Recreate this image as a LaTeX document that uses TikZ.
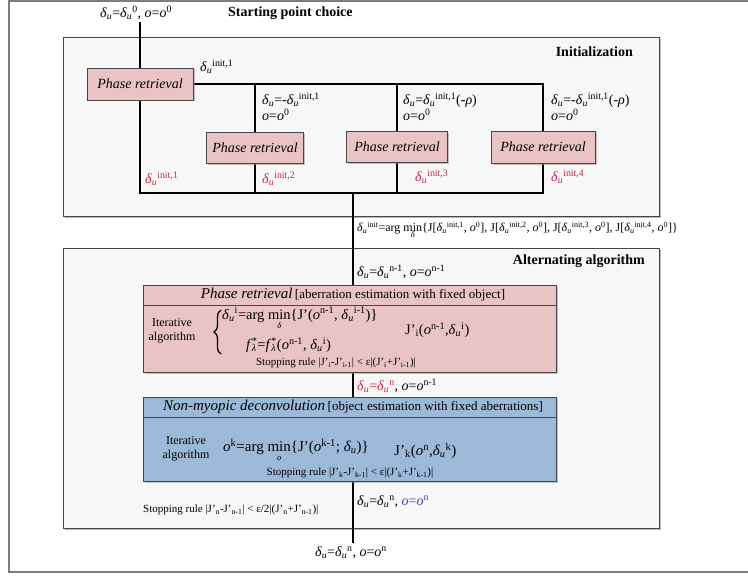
\documentclass[tikz,border=0pt]{standalone}
\usepackage{fontspec}
\setmainfont{Liberation Serif}
\usetikzlibrary{shadows,decorations.pathreplacing}
\pgfdeclarelayer{bg}\pgfdeclarelayer{lines}
\pgfsetlayers{bg,lines,main}
\definecolor{pinkfill}{RGB}{234,196,196}
\definecolor{bluefill}{RGB}{157,185,218}
\definecolor{framefill}{RGB}{247,247,247}
\definecolor{boxedge}{RGB}{70,70,70}
\definecolor{redtxt}{RGB}{200,40,70}
\definecolor{purptxt}{RGB}{80,60,170}
\definecolor{outer}{RGB}{125,125,125}
\newcommand\fsz[2]{\fontsize{#1}{#2}\selectfont}
\newcommand\du{\textit{δ}\textsubscript{\textit{u}}}
\newcommand\oo{\textit{o}}
\newcommand\Jp{J’}
\newcommand\argminof[1]{arg \begin{tabular}[t]{@{}c@{}}min\\[-7pt]{\fsz{8.5}{8.5}\itshape #1}\end{tabular}}
\newcommand\supsub[2]{\setbox0\hbox{\textsuperscript{#1}}\setbox2\hbox{\textsubscript{#2}}\ifdim\wd0>\wd2 \rlap{\box2}\box0 \else\rlap{\box0}\box2 \fi}
\tikzset{
  framebox/.style={draw=boxedge, line width=0.8pt, fill=framefill, anchor=north west, inner sep=0pt,
    drop shadow={shadow xshift=1.5pt, shadow yshift=-1.5pt, fill=black!55}},
  prbox/.style={draw=boxedge, line width=0.6pt, fill=pinkfill, minimum width=100pt, minimum height=31pt,
    inner sep=0pt, font=\fsz{14}{16}\itshape,
    drop shadow={shadow xshift=1.5pt, shadow yshift=-1.5pt, fill=black!45}},
  bigbox/.style={draw=boxedge, line width=0.6pt, anchor=north west, inner sep=0pt, minimum width=413pt,
    drop shadow={shadow xshift=1.5pt, shadow yshift=-1.5pt, fill=black!45}},
  conn/.style={line width=2.4pt, black},
  sep/.style={draw=boxedge, line width=0.6pt},
  lbl/.style={inner sep=0pt, font=\fsz{14}{16}},
  eqn/.style={inner sep=0pt, anchor=west, font=\fsz{14.5}{16}},
  small/.style={inner sep=0pt, font=\fsz{11}{13}},
  title/.style={inner sep=0pt, font=\fsz{14}{16}\bfseries},
  curly/.style={decorate, decoration={brace, amplitude=7pt, aspect=0.5}, line width=1.3pt},
}
\begin{document}
\begin{tikzpicture}[x=1pt,y=-1pt]
\useasboundingbox (0,0) rectangle (748,578);
\begin{pgfonlayer}{bg}
\fill[white] (0,0) rectangle (748,578);
\draw[outer, line width=2.4pt] (748,1.2) -- (9,1.2) -- (9,572) -- (748,572);
\end{pgfonlayer}

% frames
\begin{pgfonlayer}{bg}
\node[framebox, minimum width=596pt, minimum height=179pt] (initf) at (63,37) {};
\node[framebox, minimum width=596pt, minimum height=280pt] (altf) at (63,248) {};
\end{pgfonlayer}

% titles
\node[lbl, anchor=west] (t0) at (100,13) {\du=\du\textsuperscript{0}, \oo=\oo\textsuperscript{0}};
\node[title, anchor=west] (spc) at (228,13) {Starting point choice};
\node[title, anchor=east] (initt) at (633,52) {Initialization};
\node[title, anchor=east] (altt) at (645,261) {Alternating algorithm};

% initialization boxes
\node[prbox, minimum width=106pt, minimum height=32pt] (pr1) at (140,84) {Phase retrieval};
\node[prbox, minimum width=97pt] (pr2) at (255,148) {Phase retrieval};
\node[prbox, minimum width=101pt] (pr3) at (397,147) {Phase retrieval};
\node[prbox, minimum width=104pt, minimum height=32pt] (pr4) at (543,147) {Phase retrieval};

\coordinate (s0) at (140,22);
\coordinate (bl) at (140,193);
\coordinate (c2t) at (255,84);
\coordinate (c2b) at (255,193);
\coordinate (c3t) at (397,84);
\coordinate (c3b) at (397,193);
\coordinate (c4t) at (543,84);
\coordinate (c4b) at (543,193);
\coordinate (jn) at (353,193);
\coordinate (endc) at (353,543);

% init labels
\node[lbl, anchor=west] (l1) at (200,67) {\du\textsuperscript{init,1}};
\node[lbl, anchor=west, align=left] (l2) at (262,107) {\du=-\du\textsuperscript{init,1}\\\oo=\oo\textsuperscript{0}};
\node[lbl, anchor=west, align=left] (l3) at (403,107) {\du=\du\textsuperscript{init,1}(-\textit{ρ})\\\oo=\oo\textsuperscript{0}};
\node[lbl, anchor=west, align=left] (l4) at (551,107) {\du=-\du\textsuperscript{init,1}(-\textit{ρ})\\\oo=\oo\textsuperscript{0}};
\node[lbl, anchor=west, text=redtxt] (r1) at (145,179) {\du\textsuperscript{init,1}};
\node[lbl, anchor=west, text=redtxt] (r2) at (262,179) {\du\textsuperscript{init,2}};
\node[lbl, anchor=west, text=redtxt] (r3) at (415,177) {\du\textsuperscript{init,3}};
\node[lbl, anchor=west, text=redtxt] (r4) at (551,177) {\du\textsuperscript{init,4}};

\node[inner sep=0pt, anchor=west, font=\fsz{12}{13}] (am) at (357,232)
 {\du\textsuperscript{init}=\argminof{δ}\{J[\du\textsuperscript{init,1}, \oo\textsuperscript{0}], J[\du\textsuperscript{init,2}, \oo\textsuperscript{0}], J[\du\textsuperscript{init,3}, \oo\textsuperscript{0}], J[\du\textsuperscript{init,4}, \oo\textsuperscript{0}]\}};

% alternating algorithm
\node[lbl, anchor=west] (a0) at (357,272) {\du=\du\textsuperscript{n-1}, \oo=\oo\textsuperscript{n-1}};

\node[bigbox, fill=pinkfill, minimum height=87pt] (pra) at (143,285) {};
\draw[sep] (pra.north west |- 0,305) -- (pra.north east |- 0,305);
\node[inner sep=0pt] (prah) at (353,295) {{\fsz{15}{17}\itshape Phase retrieval} {\fsz{13}{15}[aberration estimation with fixed object]}};
\node[inner sep=0pt, align=center, font=\fsz{12}{14}] (it1) at (172,331) {Iterative\\algorithm};
\coordinate (brb) at (221,354);
\coordinate (brt) at (221,310);
\draw[curly] (brb) -- (brt);
\node[eqn] (e1) at (222,320) {\du\textsuperscript{i}=\argminof{δ}\{\Jp(\oo\textsuperscript{n-1}, \du\textsuperscript{i-1})\}};
\node[eqn] (e2) at (246,345) {\textit{f}\supsub{*}{\textit{λ}}=\textit{f}\supsub{*}{\textit{λ}}(\oo\textsuperscript{n-1}, \du\textsuperscript{i})};
\node[eqn] (e3) at (405,330) {\Jp\textsubscript{i}(\oo\textsuperscript{n-1},\du\textsuperscript{i})};
\node[small] (st1) at (336,363) {Stopping rule |\Jp\textsubscript{i}-\Jp\textsubscript{i-1}| < ε|(\Jp\textsubscript{i}+\Jp\textsubscript{i-1})|};

\node[lbl, anchor=west] (a1) at (357,386) {\textcolor{redtxt}{\du=\du\textsuperscript{n}}, \oo=\oo\textsuperscript{n-1}};

\node[bigbox, fill=bluefill, minimum height=84pt] (dec) at (143,397) {};
\draw[sep] (dec.north west |- 0,417) -- (dec.north east |- 0,417);
\node[inner sep=0pt] (dech) at (353,407) {{\fsz{15}{17}\itshape Non-myopic deconvolution} {\fsz{13}{15}[object estimation with fixed aberrations]}};
\node[inner sep=0pt, align=center, font=\fsz{12}{14}] (it2) at (186,449) {Iterative\\algorithm};
\node[eqn, font=\fsz{15}{16}] (e4) at (223,452) {\oo\textsuperscript{k}=\argminof{o}\{\Jp(\oo\textsuperscript{k-1}; \du)\}};
\node[eqn, font=\fsz{15}{16}] (e5) at (394,451) {\Jp\textsubscript{k}(\oo\textsuperscript{n},\du\textsuperscript{k})};
\node[small] (st2) at (350,473) {Stopping rule |\Jp\textsubscript{k}-\Jp\textsubscript{k-1}| < ε|(\Jp\textsubscript{k}+\Jp\textsubscript{k-1})|};

\node[lbl, anchor=west] (a2) at (357,502) {\du=\du\textsuperscript{n}, \textcolor{purptxt}{\oo=\oo\textsuperscript{n}}};
\node[small, anchor=west] (st3) at (143,510) {Stopping rule |\Jp\textsubscript{n}-\Jp\textsubscript{n-1}| < ε/2|(\Jp\textsubscript{n}+\Jp\textsubscript{n-1})|};

\node[lbl] (fin) at (351,553) {\du=\du\textsuperscript{n}, \oo=\oo\textsuperscript{n}};

% connectors
\begin{pgfonlayer}{lines}
\draw[conn] (s0) -- (pr1.north);
\draw[conn, line join=miter] (pr1.south) -- (bl) -- (c4b) -- (pr4.south);
\draw[conn, line join=miter] (pr1.east) -- (c4t) -- (pr4.north);
\draw[conn] (c2t) -- (pr2.north);
\draw[conn] (pr2.south) -- (c2b);
\draw[conn] (c3t) -- (pr3.north);
\draw[conn] (pr3.south) -- (c3b);
\draw[conn] (jn) -- (jn |- pra.north);
\draw[conn] (jn |- pra.south) -- (jn |- dec.north);
\draw[conn] (jn |- dec.south) -- (endc);
\end{pgfonlayer}
\end{tikzpicture}
\end{document}
